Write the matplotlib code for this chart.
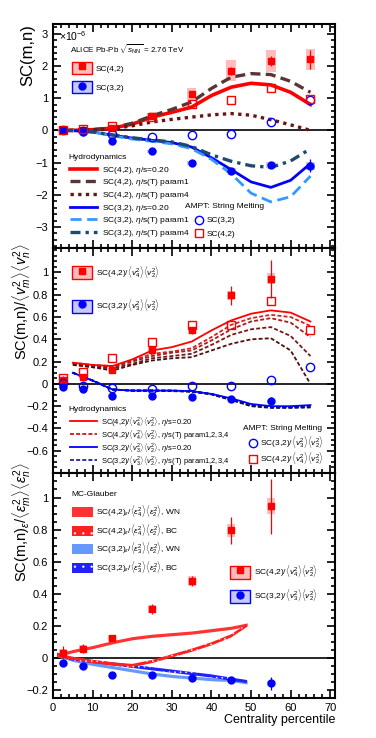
import numpy as np
import matplotlib
matplotlib.use("Agg")
import matplotlib.pyplot as plt
from matplotlib.patches import Rectangle
from matplotlib.lines import Line2D
from matplotlib.ticker import AutoMinorLocator, MultipleLocator

plt.rcParams['font.family'] = ['Liberation Sans', 'DejaVu Sans']
plt.rcParams['mathtext.fontset'] = 'custom'
plt.rcParams['mathtext.rm'] = 'Liberation Sans'
plt.rcParams['mathtext.it'] = 'Liberation Sans:italic'
plt.rcParams['mathtext.bf'] = 'Liberation Sans:bold'
plt.rcParams['hatch.linewidth'] = 0.4

# --- data: SC(m,n), units 1e-6 ---
cent = [2.5, 7.5, 15, 25, 35, 45, 55, 65]
sc42 = [0.0, 0.02, 0.08, 0.43, 1.12, 1.85, 2.15, 2.2]
sc42_stat = [0.02, 0.02, 0.03, 0.05, 0.08, 0.12, 0.15, 0.3]
sc42_sys = [0.03, 0.04, 0.08, 0.1, 0.18, 0.33, 0.35, 0.33]
sc32 = [0.0, -0.05, -0.33, -0.65, -1.02, -1.25, -1.08, -1.1]
sc32_stat = [0.02, 0.02, 0.03, 0.04, 0.05, 0.08, 0.1, 0.2]
sc32_sys = [0.02, 0.03, 0.04, 0.05, 0.06, 0.08, 0.1, 0.12]
ampt_sc42 = [0.0, 0.03, 0.12, 0.4, 0.83, 0.95, 1.3, 0.97]
ampt_sc32 = [0.0, -0.02, -0.1, -0.22, -0.14, -0.1, 0.25, 0.95]

hx = [2.5, 5, 10, 15, 20, 25, 30, 35, 40, 45, 50, 55, 60, 65]
h42 = [0, 0.0, 0.02, 0.07, 0.19, 0.41, 0.56, 0.72, 1.08, 1.34, 1.46, 1.41, 1.18, 0.8]
h42_p1 = [0, 0.0, 0.02, 0.08, 0.22, 0.45, 0.65, 0.88, 1.3, 1.65, 1.76, 1.73, 1.52, 1.18]
h42_p4 = [0, 0.0, 0.01, 0.05, 0.14, 0.26, 0.34, 0.41, 0.48, 0.52, 0.47, 0.33, 0.17, 0.0]
h32 = [0, -0.01, -0.05, -0.15, -0.24, -0.31, -0.38, -0.52, -0.85, -1.22, -1.6, -1.77, -1.55, -1.03]
h32_p1 = [0, -0.01, -0.05, -0.17, -0.27, -0.34, -0.42, -0.57, -0.9, -1.35, -1.95, -2.22, -2.06, -1.42]
h32_p4 = [0, -0.01, -0.05, -0.14, -0.23, -0.3, -0.36, -0.5, -0.76, -0.96, -1.1, -1.15, -0.95, -0.57]

# --- normalized SC ---
cent_n = [2.5, 7.5, 15, 25, 35, 45, 55]
nsc42 = [0.035, 0.06, 0.125, 0.305, 0.48, 0.795, 0.945]
nsc42_stat = [0.04, 0.03, 0.02, 0.03, 0.03, 0.085, 0.17]
nsc42_sys = [0.02, 0.02, 0.02, 0.025, 0.03, 0.04, 0.05]
nsc32 = [-0.03, -0.05, -0.105, -0.105, -0.12, -0.135, -0.155]
nsc32_stat = [0.01, 0.01, 0.01, 0.01, 0.01, 0.015, 0.04]
nsc32_sys = [0.01, 0.01, 0.01, 0.01, 0.01, 0.01, 0.015]
ampt_n42 = [0.05, 0.11, 0.23, 0.38, 0.53, 0.53, 0.74, 0.48]
ampt_n32 = [0.01, -0.02, -0.04, -0.045, -0.02, -0.015, 0.035, 0.15]

hx2 = [5, 10, 15, 20, 25, 30, 35, 40, 45, 50, 55, 60, 65]
n42_hydro = [0.19, 0.17, 0.16, 0.22, 0.30, 0.33, 0.38, 0.48, 0.57, 0.63, 0.66, 0.64, 0.56]
n42_params = [
    [0.19, 0.17, 0.16, 0.21, 0.27, 0.29, 0.32, 0.42, 0.53, 0.59, 0.62, 0.60, 0.52],
    [0.18, 0.16, 0.15, 0.20, 0.25, 0.28, 0.30, 0.39, 0.49, 0.56, 0.59, 0.55, 0.42],
    [0.18, 0.15, 0.14, 0.18, 0.23, 0.25, 0.27, 0.35, 0.44, 0.49, 0.51, 0.43, 0.25],
    [0.17, 0.15, 0.12, 0.17, 0.21, 0.23, 0.24, 0.30, 0.36, 0.40, 0.41, 0.30, 0.0],
]
n32_hydro = [0.10, 0.03, -0.05, -0.06, -0.06, -0.06, -0.065, -0.09, -0.13, -0.18, -0.20, -0.20, -0.19]
n32_params = [
    [0.10, 0.03, -0.05, -0.06, -0.06, -0.06, -0.065, -0.09, -0.14, -0.19, -0.205, -0.205, -0.20],
    [0.10, 0.03, -0.05, -0.06, -0.06, -0.06, -0.065, -0.09, -0.14, -0.19, -0.21, -0.21, -0.205],
    [0.10, 0.03, -0.05, -0.06, -0.06, -0.06, -0.07, -0.09, -0.14, -0.195, -0.21, -0.21, -0.21],
    [0.10, 0.03, -0.05, -0.06, -0.06, -0.065, -0.07, -0.095, -0.145, -0.20, -0.215, -0.215, -0.21],
]

# --- MC-Glauber eccentricity ---
gx = [1, 5, 10, 15, 20, 25, 30, 35, 40, 45, 49]
e42_wn = [0.02, 0.045, 0.07, 0.10, 0.125, 0.14, 0.15, 0.16, 0.175, 0.19, 0.21]
e42_bc = [0.02, 0.0, -0.02, -0.035, -0.045, -0.02, 0.015, 0.05, 0.09, 0.14, 0.205]
e32_wn = [0.02, -0.01, -0.035, -0.055, -0.075, -0.095, -0.11, -0.12, -0.13, -0.135, -0.15]
e32_bc = [0.025, -0.005, -0.02, -0.035, -0.05, -0.065, -0.08, -0.095, -0.11, -0.13, -0.145]

RED = '#ff0000'
BLUE = '#0000ff'
PINK = '#ffbcbc'
LBLUE = '#c8c8ff'

fig = plt.figure(figsize=(3.76, 7.38), dpi=100)
ax1 = fig.add_axes([0.141, 0.664, 0.75, 0.3035])
ax2 = fig.add_axes([0.141, 0.359, 0.75, 0.305])
ax3 = fig.add_axes([0.141, 0.0542, 0.75, 0.305])


def style(ax, yticks, nmin):
    ax.set_xlim(0, 71.2)
    ax.xaxis.set_major_locator(MultipleLocator(10))
    ax.xaxis.set_minor_locator(AutoMinorLocator(5))
    ax.set_yticks(yticks)
    ax.yaxis.set_minor_locator(AutoMinorLocator(nmin))
    ax.tick_params(which='both', direction='in', top=True, right=True, labelsize=8, width=1.2)
    ax.tick_params(which='major', length=6)
    ax.tick_params(which='minor', length=3)
    for s in ax.spines.values():
        s.set_linewidth(1.5)
    ax.axhline(0, color='black', lw=1.2, zorder=1)


def data(ax, x, y, stat, sys, col, box, marker, w):
    ax.bar(x, [2 * s for s in sys], bottom=[a - s for a, s in zip(y, sys)], width=w,
           color=box, lw=0, zorder=2)
    ax.errorbar(x, y, yerr=stat, fmt=marker, color=col, ms=5, elinewidth=0.9, capsize=0, zorder=5)


def boxhandle(col, box, marker):
    return (Rectangle((0, 0), 1, 1, facecolor=box, edgecolor=col, lw=1.0),
            Line2D([], [], ls='none', marker=marker, color=col, ms=5))


# ---------------- panel 1 ----------------
style(ax1, [-3, -2, -1, 0, 1, 2, 3], 5)
ax1.set_ylim(-3.65, 3.3)
ax1.set_yticklabels(['\u22123', '\u22122', '\u22121', '0', '1', '2', '3'])
ax1.tick_params(labelbottom=False)
data(ax1, cent, sc42, sc42_stat, sc42_sys, RED, PINK, 's', 2.4)
data(ax1, cent, sc32, sc32_stat, sc32_sys, BLUE, LBLUE, 'o', 2.4)
ax1.plot(cent, ampt_sc32, 'o', mfc='none', mec=BLUE, ms=6, mew=1, zorder=6)
ax1.plot(cent, ampt_sc42, 's', mfc='none', mec=RED, ms=6, mew=1, zorder=6)
l1, = ax1.plot(hx, h42, color=RED, lw=2.6, zorder=4)
l2, = ax1.plot(hx, h42_p1, color='#5a3535', lw=2.4, ls=(0, (3, 1.6)), zorder=4)
l3, = ax1.plot(hx, h42_p4, color='#6a1414', lw=2.4, ls=(0, (1, 1.3)), zorder=4)
l4, = ax1.plot(hx, h32, color=BLUE, lw=2.0, zorder=4)
l5, = ax1.plot(hx, h32_p1, color='#3399ff', lw=2.0, ls=(0, (4, 2)), zorder=4)
l6, = ax1.plot(hx, h32_p4, color='#1e4a6e', lw=2.4, ls=(0, (3, 1.5, 1, 1.5)), zorder=4)
ax1.set_ylabel('SC(m,n)', fontsize=12, loc='top')
ax1.yaxis.set_label_coords(-0.062, 1.0)
ax1.text(0.02, 0.945, r'$\times$10$^{-6}$', transform=ax1.transAxes, fontsize=7.5, va='center')
ax1.text(0.06, 0.89, r'ALICE Pb-Pb $\sqrt{s_{\rm NN}}$ = 2.76 TeV', transform=ax1.transAxes,
         fontsize=5.8, va='center')
leg = ax1.legend([boxhandle(RED, PINK, 's'), boxhandle(BLUE, LBLUE, 'o')], ['SC(4,2)', 'SC(3,2)'],
                 loc='upper left', bbox_to_anchor=(0.067, 0.83), frameon=False, fontsize=6,
                 borderpad=0, borderaxespad=0, handlelength=2.4, handleheight=1.8,
                 labelspacing=0.9, handletextpad=0.5)
ax1.add_artist(leg)
ax1.text(0.053, 0.405, 'Hydrodynamics', transform=ax1.transAxes, fontsize=6, va='center')
leg = ax1.legend([l1, l2, l3, l4, l5, l6],
                 [r'SC(4,2), $\eta$/s=0.20', r'SC(4,2), $\eta$/s(T) param1', r'SC(4,2), $\eta$/s(T) param4',
                  r'SC(3,2), $\eta$/s=0.20', r'SC(3,2), $\eta$/s(T) param1', r'SC(3,2), $\eta$/s(T) param4'],
                 loc='upper left', bbox_to_anchor=(0.06, 0.372), frameon=False, fontsize=6,
                 borderpad=0, borderaxespad=0, handlelength=3.3, labelspacing=0.2, handletextpad=0.5)
ax1.add_artist(leg)
ax1.text(0.468, 0.186, 'AMPT: String Melting', transform=ax1.transAxes, fontsize=6, va='center')
m1 = Line2D([], [], ls='none', marker='o', mfc='none', mec=BLUE, ms=6, mew=1)
m2 = Line2D([], [], ls='none', marker='s', mfc='none', mec=RED, ms=6, mew=1)
ax1.legend([m1, m2], ['SC(3,2)', 'SC(4,2)'], loc='upper left', bbox_to_anchor=(0.5, 0.14),
           frameon=False, fontsize=6, borderpad=0, borderaxespad=0, handlelength=1.2,
           labelspacing=0.7, handletextpad=0.3)

# ---------------- panel 2 ----------------
style(ax2, [-0.6, -0.4, -0.2, 0, 0.2, 0.4, 0.6, 0.8, 1.0], 4)
ax2.set_ylim(-0.8, 1.22)
ax2.set_yticklabels(['\u22120.6', '\u22120.4', '\u22120.2', '0', '0.2', '0.4', '0.6', '0.8', '1'])
ax2.tick_params(labelbottom=False)
data(ax2, cent_n, nsc42, nsc42_stat, nsc42_sys, RED, PINK, 's', 2.0)
data(ax2, cent_n, nsc32, nsc32_stat, nsc32_sys, BLUE, LBLUE, 'o', 2.0)
ax2.plot(cent, ampt_n32, 'o', mfc='none', mec=BLUE, ms=6, mew=1, zorder=6)
ax2.plot(cent, ampt_n42, 's', mfc='none', mec=RED, ms=6, mew=1, zorder=6)
red_params = ['#d42020', '#a81c1c', '#7a1616', '#4e1010']
blue_params = ['#2a2ad0', '#22229a', '#1a1a70', '#101040']
for yv, c in zip(n32_params, blue_params):
    lb, = ax2.plot(hx2, yv, color=c, lw=1.3, ls=(0, (2.2, 1.2)), zorder=3)
lbs, = ax2.plot(hx2, n32_hydro, color=BLUE, lw=1.3, zorder=4)
for yv, c in zip(n42_params, red_params):
    lr, = ax2.plot(hx2, yv, color=c, lw=1.3, ls=(0, (2.2, 1.2)), zorder=3)
lrs, = ax2.plot(hx2, n42_hydro, color=RED, lw=1.3, zorder=4)
lrd = Line2D([], [], color='#c81818', lw=1.3, ls=(0, (2.2, 1.2)))
lbd = Line2D([], [], color='#2020a0', lw=1.3, ls=(0, (2.2, 1.2)))
ax2.set_ylabel(r'SC(m,n)/$\langle v_{m}^{2}\rangle\langle v_{n}^{2}\rangle$', fontsize=10.5, loc='top')
ax2.yaxis.set_label_coords(-0.07, 1.02)
lab42 = r'SC(4,2)/$\langle v_{4}^{2}\rangle\langle v_{2}^{2}\rangle$'
lab32 = r'SC(3,2)/$\langle v_{3}^{2}\rangle\langle v_{2}^{2}\rangle$'
leg = ax2.legend([boxhandle(RED, PINK, 's'), boxhandle(BLUE, LBLUE, 'o')], [lab42, lab32],
                 loc='upper left', bbox_to_anchor=(0.067, 0.93), frameon=False, fontsize=6,
                 borderpad=0, borderaxespad=0, handlelength=2.4, handleheight=2.0,
                 labelspacing=2.1, handletextpad=0.5)
ax2.add_artist(leg)
ax2.text(0.053, 0.284, 'Hydrodynamics', transform=ax2.transAxes, fontsize=6, va='center')
leg = ax2.legend([lrs, lrd, lbs, lbd],
                 [lab42 + r', $\eta$/s=0.20', lab42 + r', $\eta$/s(T) param1,2,3,4',
                  lab32 + r', $\eta$/s=0.20', lab32 + r', $\eta$/s(T) param1,2,3,4'],
                 loc='upper left', bbox_to_anchor=(0.06, 0.26), frameon=False, fontsize=5.4,
                 borderpad=0, borderaxespad=0, handlelength=3.6, labelspacing=0.0, handletextpad=0.5)
ax2.add_artist(leg)
ax2.text(0.674, 0.196, 'AMPT: String Melting', transform=ax2.transAxes, fontsize=6, va='center')
ax2.legend([m1, m2], [lab32, lab42], loc='upper left', bbox_to_anchor=(0.69, 0.175),
           frameon=False, fontsize=6, borderpad=0, borderaxespad=0, handlelength=1.2,
           labelspacing=0.0, handletextpad=0.3)

# ---------------- panel 3 ----------------
style(ax3, [-0.2, 0, 0.2, 0.4, 0.6, 0.8, 1.0], 4)
ax3.set_ylim(-0.247, 1.153)
ax3.set_yticklabels(['\u22120.2', '0', '0.2', '0.4', '0.6', '0.8', '1'])
bw = 0.01
ax3.fill_between(gx, [v - bw for v in e32_wn], [v + bw for v in e32_wn], color='#6699ff', lw=0, zorder=3)
ax3.fill_between(gx, [v - bw for v in e32_bc], [v + bw for v in e32_bc], facecolor='#2222ff',
                 edgecolor='white', hatch='...', lw=0, zorder=3)
ax3.fill_between(gx, [v - bw for v in e42_wn], [v + bw for v in e42_wn], color='#ff3333', lw=0, zorder=3)
ax3.fill_between(gx, [v - bw for v in e42_bc], [v + bw for v in e42_bc], facecolor='#ff2020',
                 edgecolor='white', hatch='...', lw=0, zorder=3)
data(ax3, cent_n, nsc42, nsc42_stat, nsc42_sys, RED, PINK, 's', 2.0)
data(ax3, cent_n, nsc32, nsc32_stat, nsc32_sys, BLUE, LBLUE, 'o', 2.0)
ax3.set_ylabel(r'SC(m,n)$_{\varepsilon}$/$\langle\varepsilon_{m}^{2}\rangle\langle\varepsilon_{n}^{2}\rangle$',
               fontsize=10.5, loc='top')
ax3.yaxis.set_label_coords(-0.07, 1.05)
ax3.set_xlabel('Centrality percentile', fontsize=9, loc='right', labelpad=1)
ax3.text(0.064, 0.902, 'MC-Glauber', transform=ax3.transAxes, fontsize=6, va='center')
p1 = Rectangle((0, 0), 1, 1, facecolor='#ff3333', lw=0)
p2 = Rectangle((0, 0), 1, 1, facecolor='#ff2020', edgecolor='white', hatch='..', lw=0)
p3 = Rectangle((0, 0), 1, 1, facecolor='#6699ff', lw=0)
p4 = Rectangle((0, 0), 1, 1, facecolor='#2222ff', edgecolor='white', hatch='..', lw=0)
e42 = r'SC(4,2)$_{\varepsilon}$/$\langle\varepsilon_{4}^{2}\rangle\langle\varepsilon_{2}^{2}\rangle$'
e32 = r'SC(3,2)$_{\varepsilon}$/$\langle\varepsilon_{3}^{2}\rangle\langle\varepsilon_{2}^{2}\rangle$'
leg = ax3.legend([p1, p2, p3, p4], [e42 + ', WN', e42 + ', BC', e32 + ', WN', e32 + ', BC'],
                 loc='upper left', bbox_to_anchor=(0.067, 0.865), frameon=False, fontsize=6,
                 borderpad=0, borderaxespad=0, handlelength=2.5, handleheight=1.4,
                 labelspacing=0.3, handletextpad=0.4)
ax3.add_artist(leg)
ax3.legend([boxhandle(RED, PINK, 's'), boxhandle(BLUE, LBLUE, 'o')], [lab42, lab32],
           loc='upper left', bbox_to_anchor=(0.628, 0.6), frameon=False, fontsize=6,
           borderpad=0, borderaxespad=0, handlelength=2.4, handleheight=2.0,
           labelspacing=1.0, handletextpad=0.5)

fig.savefig('out.png', dpi=100)
